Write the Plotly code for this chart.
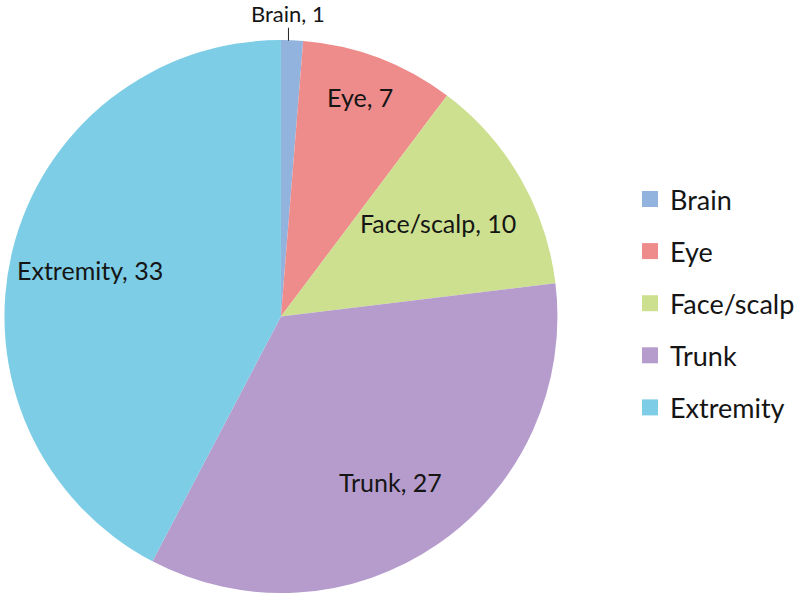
import math
import plotly.graph_objects as go

labels = ["Brain", "Eye", "Face/scalp", "Trunk", "Extremity"]
values = [1, 7, 10, 27, 33]
colors = ["#93b3df", "#ee8b8b", "#cde08f", "#b59ccc", "#7ccde5"]

# label placement style: fraction of radius along each slice's bisector (None = outside callout)
label_radius = [None, 0.85, 0.68, 0.73, 0.71]

FONT = "Lato, Open Sans, sans-serif"

# pie geometry in pixels (target on page)
W, H = 800, 602
cx, cy, r = 281, 316.5, 276
# domain box handed to plotly (slightly larger: plotly insets the drawn circle a little)
dcx, dr = 284.5, 280

fig = go.Figure()
fig.add_trace(go.Pie(
    labels=labels, values=values, sort=False, direction="clockwise", rotation=0,
    marker=dict(colors=colors, line=dict(width=0)),
    textinfo="none", showlegend=False, hoverinfo="label+value",
    domain=dict(x=[(dcx - dr) / W, (dcx + dr) / W], y=[1 - (cy + dr) / H, 1 - (cy - dr) / H]),
))

total = sum(values)
cum = 0
for lab, val, frac in zip(labels, values, label_radius):
    mid = (cum + val / 2) / total * 2 * math.pi
    cum += val
    txt = f"{lab}, {val}"
    if frac is None:
        px = cx + r * math.sin(mid)
        py = cy - r * math.cos(mid)
        fig.add_annotation(
            x=px / W, y=1 - py / H, xref="paper", yref="paper",
            text=txt, showarrow=True, arrowhead=0, arrowwidth=1,
            arrowcolor="#222222", ax=0, ay=-13, yanchor="bottom", borderpad=0,
            font=dict(family=FONT, size=22, color="#151515"),
        )
    else:
        px = cx + frac * r * math.sin(mid)
        py = cy - frac * r * math.cos(mid)
        fig.add_annotation(
            x=px / W, y=1 - py / H, xref="paper", yref="paper",
            text=txt, showarrow=False, xanchor="center", yanchor="middle",
            font=dict(family=FONT, size=25, color="#151515"),
        )

for lab, col in zip(labels, colors):
    fig.add_trace(go.Scatter(
        x=[None], y=[None], mode="markers", name=lab, legendgroup=lab,
        marker=dict(symbol="square", size=16, color=col),
        showlegend=True,
    ))

fig.update_layout(
    width=W, height=H, margin=dict(l=0, r=0, t=0, b=0),
    paper_bgcolor="white", plot_bgcolor="white",
    xaxis=dict(visible=False), yaxis=dict(visible=False),
    legend=dict(x=0.7975, y=0.7094, xanchor="left", yanchor="top",
                font=dict(family=FONT, size=27, color="#151515"),
                tracegroupgap=14, itemsizing="trace", bgcolor="rgba(0,0,0,0)"),
)
fig.write_html("out.html", config={"displayModeBar": False},
               post_script="document.body.style.margin='0';document.body.style.padding='0';")
